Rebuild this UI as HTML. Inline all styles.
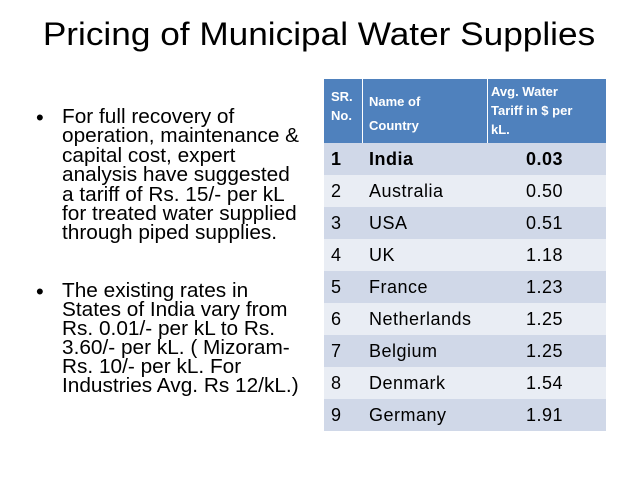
<!DOCTYPE html>
<html><head><meta charset="utf-8">
<style>
body{margin:0;width:638px;height:479px;background:#fff;position:relative;overflow:hidden;font-family:"Liberation Sans",sans-serif;}
.title{position:absolute;left:0;top:15px;width:638px;text-align:center;font-size:32px;line-height:38px;color:#000;transform:scaleX(1.1);white-space:nowrap;}
.b{position:absolute;left:62px;font-size:20px;line-height:19.4px;color:#000;white-space:nowrap;transform-origin:0 0;transform:scaleX(1.04);}
.dot{position:absolute;left:36px;font-size:22px;line-height:19.4px;}
.tbl{position:absolute;left:324px;top:79px;width:282px;height:352px;}
.hdr{position:absolute;left:0;top:0;width:282px;height:64px;background:#4F81BD;}
.hc{position:absolute;color:#fff;font-weight:bold;font-size:13px;line-height:19px;white-space:nowrap;}
.sep{position:absolute;top:0;width:1px;height:64px;background:#fff;}
.row{position:absolute;left:0;width:282px;height:32px;font-size:18px;letter-spacing:0.5px;line-height:32px;color:#000;}
.row span{position:absolute;top:0;}
.row .n{left:7px}.row .c{left:45px}.row .v{right:43px}
</style></head><body>
<div class="title">Pricing of Municipal Water Supplies</div>
<div class="dot" style="top:108px">•</div>
<div class="b" style="top:108px">For full recovery of<br>operation, maintenance &amp;<br>capital cost, expert<br>analysis have suggested<br>a tariff of Rs. 15/- per kL<br>for treated water supplied<br>through piped supplies.</div>
<div class="dot" style="top:282px">•</div>
<div class="b" style="top:282px;line-height:18.9px">The existing rates in<br>States of India vary from<br>Rs. 0.01/- per kL to Rs.<br>3.60/- per kL. ( Mizoram-<br>Rs. 10/- per kL. For<br>Industries Avg. Rs 12/kL.)</div>
<div class="tbl">
<div class="hdr">
<div class="sep" style="left:38px"></div><div class="sep" style="left:163px"></div>
<div class="hc" style="left:7px;top:8px">SR.<br>No.</div>
<div class="hc" style="left:45px;top:11px;line-height:24px">Name of<br>Country</div>
<div class="hc" style="left:167px;top:3px">Avg. Water<br>Tariff in $ per<br>kL.</div>
</div>
<div class="row" style="top:64px;background:#D0D8E8;font-weight:bold"><span class="n">1</span><span class="c">India</span><span class="v">0.03</span></div>
<div class="row" style="top:96px;background:#E9EDF4"><span class="n">2</span><span class="c">Australia</span><span class="v">0.50</span></div>
<div class="row" style="top:128px;background:#D0D8E8"><span class="n">3</span><span class="c">USA</span><span class="v">0.51</span></div>
<div class="row" style="top:160px;background:#E9EDF4"><span class="n">4</span><span class="c">UK</span><span class="v">1.18</span></div>
<div class="row" style="top:192px;background:#D0D8E8"><span class="n">5</span><span class="c">France</span><span class="v">1.23</span></div>
<div class="row" style="top:224px;background:#E9EDF4"><span class="n">6</span><span class="c">Netherlands</span><span class="v">1.25</span></div>
<div class="row" style="top:256px;background:#D0D8E8"><span class="n">7</span><span class="c">Belgium</span><span class="v">1.25</span></div>
<div class="row" style="top:288px;background:#E9EDF4"><span class="n">8</span><span class="c">Denmark</span><span class="v">1.54</span></div>
<div class="row" style="top:320px;background:#D0D8E8"><span class="n">9</span><span class="c">Germany</span><span class="v">1.91</span></div>
</div>
</body></html>
